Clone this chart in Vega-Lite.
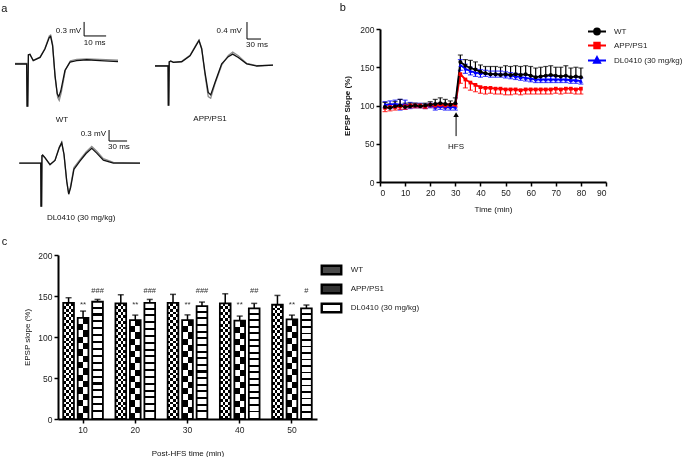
{
"$schema": "https://vega.github.io/schema/vega-lite/v6.json",
"background": "white",
"padding": {"left": 1, "top": 1, "right": 0, "bottom": 0},
"config": {
 "font": "Liberation Sans",
 "view": {"stroke": null},
 "axis": {"grid": false, "domainColor": "#000", "domainWidth": 2, "tickColor": "#000", "tickWidth": 1.5, "tickSize": 4, "labelFontSize": 8.5, "labelColor": "#222", "titleFontSize": 8, "titleFontWeight": "normal", "titleColor": "#111", "labelPadding": 2, "labelOverlap": false},
 "title": {"fontSize": 11, "fontWeight": "normal", "anchor": "start", "frame": "bounds", "color": "#111"},
 "legend": {"labelFontSize": 8, "labelColor": "#222"}
},
"datasets": {
 "wt": [
  {"s":"A","t":0,"v":0},{"s":"A","t":5.3,"v":0},{"s":"A","t":5.5,"v":-0.9},{"s":"A","t":5.8,"v":-0.9},{"s":"A","t":6.1,"v":0.2},{"s":"A","t":6.8,"v":0.21},{"s":"A","t":8.3,"v":0.07},{"s":"A","t":11.4,"v":0.14},{"s":"A","t":13.6,"v":0.32},{"s":"A","t":15.6,"v":0.57},{"s":"A","t":16.2,"v":0.59},{"s":"A","t":17.1,"v":0.39},{"s":"A","t":18.2,"v":-0.25},{"s":"A","t":19.2,"v":-0.64},{"s":"A","t":19.9,"v":-0.7},{"s":"A","t":20.8,"v":-0.58},{"s":"A","t":22.7,"v":-0.14},{"s":"A","t":25,"v":0.04},{"s":"A","t":28,"v":0.07},{"s":"A","t":32.6,"v":0.09},{"s":"A","t":38.6,"v":0.07},{"s":"A","t":46.8,"v":0.05},
  {"s":"B","t":0,"v":0.01},{"s":"B","t":5.3,"v":0.01},{"s":"B","t":5.5,"v":-0.9},{"s":"B","t":5.8,"v":-0.9},{"s":"B","t":6.1,"v":0.19},{"s":"B","t":6.8,"v":0.2},{"s":"B","t":8.3,"v":0.08},{"s":"B","t":11.4,"v":0.15},{"s":"B","t":13.6,"v":0.33},{"s":"B","t":15.6,"v":0.6},{"s":"B","t":16.2,"v":0.62},{"s":"B","t":17.1,"v":0.42},{"s":"B","t":18.2,"v":-0.28},{"s":"B","t":19.4,"v":-0.72},{"s":"B","t":20.1,"v":-0.78},{"s":"B","t":21,"v":-0.62},{"s":"B","t":22.9,"v":-0.13},{"s":"B","t":25.2,"v":0.07},{"s":"B","t":28,"v":0.1},{"s":"B","t":32.6,"v":0.11},{"s":"B","t":38.6,"v":0.1},{"s":"B","t":46.8,"v":0.08}
 ],
 "app": [
  {"s":"A","t":0,"v":0},{"s":"A","t":25,"v":0},{"s":"A","t":28,"v":0},{"s":"A","t":28.5,"v":-0.92},{"s":"A","t":29.5,"v":-0.92},{"s":"A","t":30.5,"v":0.1},{"s":"A","t":33.6,"v":0.12},{"s":"A","t":39.2,"v":0.087},{"s":"A","t":57.2,"v":0.1},{"s":"A","t":75,"v":0.24},{"s":"A","t":87.8,"v":0.48},{"s":"A","t":94.2,"v":0.6},{"s":"A","t":100,"v":0.4},{"s":"A","t":107,"v":-0.15},{"s":"A","t":114,"v":-0.62},{"s":"A","t":119.3,"v":-0.68},{"s":"A","t":128.5,"v":-0.39},{"s":"A","t":142.8,"v":0.05},{"s":"A","t":157,"v":0.22},{"s":"A","t":166.4,"v":0.28},{"s":"A","t":178.4,"v":0.2},{"s":"A","t":196.4,"v":0.05},{"s":"A","t":217.8,"v":0},{"s":"A","t":252.7,"v":0.02},
  {"s":"B","t":0,"v":0.01},{"s":"B","t":25,"v":0.01},{"s":"B","t":28,"v":0.01},{"s":"B","t":28.5,"v":-0.92},{"s":"B","t":29.5,"v":-0.92},{"s":"B","t":30.5,"v":0.1},{"s":"B","t":33.6,"v":0.11},{"s":"B","t":39.2,"v":0.09},{"s":"B","t":57.2,"v":0.11},{"s":"B","t":75,"v":0.25},{"s":"B","t":87.8,"v":0.5},{"s":"B","t":94.2,"v":0.61},{"s":"B","t":100,"v":0.42},{"s":"B","t":107,"v":-0.2},{"s":"B","t":114,"v":-0.72},{"s":"B","t":119.3,"v":-0.76},{"s":"B","t":128.5,"v":-0.42},{"s":"B","t":142.8,"v":0.02},{"s":"B","t":157,"v":0.25},{"s":"B","t":166.4,"v":0.33},{"s":"B","t":178.4,"v":0.24},{"s":"B","t":196.4,"v":0.06},{"s":"B","t":217.8,"v":0.01},{"s":"B","t":252.7,"v":0.02}
 ],
 "dl": [
  {"s":"A","t":0,"v":0},{"s":"A","t":33.3,"v":0},{"s":"A","t":35.8,"v":0},{"s":"A","t":36.2,"v":-1.17},{"s":"A","t":37.2,"v":-1.17},{"s":"A","t":37.8,"v":0.2},{"s":"A","t":39,"v":0.22},{"s":"A","t":42.8,"v":0.15},{"s":"A","t":51.2,"v":-0.04},{"s":"A","t":59.5,"v":0.07},{"s":"A","t":66.7,"v":0.42},{"s":"A","t":70.7,"v":0.55},{"s":"A","t":74.5,"v":0.24},{"s":"A","t":79,"v":-0.49},{"s":"A","t":82.3,"v":-0.85},{"s":"A","t":85.5,"v":-0.67},{"s":"A","t":91,"v":-0.17},{"s":"A","t":101,"v":0.05},{"s":"A","t":111.2,"v":0.26},{"s":"A","t":120.7,"v":0.4},{"s":"A","t":129,"v":0.27},{"s":"A","t":140,"v":0.08},{"s":"A","t":156.7,"v":0},{"s":"A","t":201,"v":0},
  {"s":"B","t":0,"v":0},{"s":"B","t":33.3,"v":0},{"s":"B","t":35.8,"v":0},{"s":"B","t":36.2,"v":-1.17},{"s":"B","t":37.2,"v":-1.17},{"s":"B","t":37.8,"v":0.2},{"s":"B","t":39,"v":0.2},{"s":"B","t":42.8,"v":0.14},{"s":"B","t":51.2,"v":-0.05},{"s":"B","t":59.5,"v":0.08},{"s":"B","t":66.7,"v":0.44},{"s":"B","t":70.7,"v":0.57},{"s":"B","t":74.5,"v":0.22},{"s":"B","t":79,"v":-0.5},{"s":"B","t":82.3,"v":-0.83},{"s":"B","t":85.5,"v":-0.62},{"s":"B","t":91,"v":-0.12},{"s":"B","t":101,"v":0.09},{"s":"B","t":111.2,"v":0.3},{"s":"B","t":120.7,"v":0.45},{"s":"B","t":129,"v":0.32},{"s":"B","t":140,"v":0.12},{"s":"B","t":156.7,"v":0.02},{"s":"B","t":201,"v":0}
 ],
 "ltp": [
  {"g":"DL0410 (30 mg/kg)","t":2,"m":101,"lo":97,"hi":105},{"g":"DL0410 (30 mg/kg)","t":4,"m":101,"lo":96,"hi":106},{"g":"DL0410 (30 mg/kg)","t":6,"m":102,"lo":97,"hi":107},{"g":"DL0410 (30 mg/kg)","t":8,"m":101,"lo":94,"hi":108},{"g":"DL0410 (30 mg/kg)","t":10,"m":101,"lo":95,"hi":107},{"g":"DL0410 (30 mg/kg)","t":12,"m":100,"lo":96,"hi":104},{"g":"DL0410 (30 mg/kg)","t":14,"m":100,"lo":97,"hi":103},{"g":"DL0410 (30 mg/kg)","t":16,"m":100,"lo":97,"hi":103},{"g":"DL0410 (30 mg/kg)","t":18,"m":99,"lo":96,"hi":102},{"g":"DL0410 (30 mg/kg)","t":20,"m":100,"lo":97,"hi":103},{"g":"DL0410 (30 mg/kg)","t":22,"m":98,"lo":94,"hi":102},{"g":"DL0410 (30 mg/kg)","t":24,"m":99,"lo":95,"hi":103},{"g":"DL0410 (30 mg/kg)","t":26,"m":98,"lo":94,"hi":102},{"g":"DL0410 (30 mg/kg)","t":28,"m":98,"lo":94,"hi":102},{"g":"DL0410 (30 mg/kg)","t":30,"m":98,"lo":94,"hi":102},{"g":"DL0410 (30 mg/kg)","t":32,"m":153,"lo":146,"hi":160},{"g":"DL0410 (30 mg/kg)","t":34,"m":148,"lo":142,"hi":154},{"g":"DL0410 (30 mg/kg)","t":36,"m":145,"lo":140,"hi":150},{"g":"DL0410 (30 mg/kg)","t":38,"m":143,"lo":138,"hi":148},{"g":"DL0410 (30 mg/kg)","t":40,"m":142,"lo":137,"hi":147},{"g":"DL0410 (30 mg/kg)","t":42,"m":142,"lo":138,"hi":146},{"g":"DL0410 (30 mg/kg)","t":44,"m":141,"lo":137,"hi":145},{"g":"DL0410 (30 mg/kg)","t":46,"m":141,"lo":137,"hi":145},{"g":"DL0410 (30 mg/kg)","t":48,"m":141,"lo":137,"hi":145},{"g":"DL0410 (30 mg/kg)","t":50,"m":140,"lo":136,"hi":144},{"g":"DL0410 (30 mg/kg)","t":52,"m":139,"lo":135,"hi":143},{"g":"DL0410 (30 mg/kg)","t":54,"m":138,"lo":134,"hi":142},{"g":"DL0410 (30 mg/kg)","t":56,"m":137,"lo":133,"hi":141},{"g":"DL0410 (30 mg/kg)","t":58,"m":136,"lo":132,"hi":140},{"g":"DL0410 (30 mg/kg)","t":60,"m":135,"lo":131,"hi":139},{"g":"DL0410 (30 mg/kg)","t":62,"m":134,"lo":130,"hi":138},{"g":"DL0410 (30 mg/kg)","t":64,"m":134,"lo":130,"hi":138},{"g":"DL0410 (30 mg/kg)","t":66,"m":134,"lo":130,"hi":138},{"g":"DL0410 (30 mg/kg)","t":68,"m":134,"lo":130,"hi":138},{"g":"DL0410 (30 mg/kg)","t":70,"m":134,"lo":130,"hi":138},{"g":"DL0410 (30 mg/kg)","t":72,"m":134,"lo":130,"hi":138},{"g":"DL0410 (30 mg/kg)","t":74,"m":134,"lo":130,"hi":138},{"g":"DL0410 (30 mg/kg)","t":76,"m":133,"lo":129,"hi":137},{"g":"DL0410 (30 mg/kg)","t":78,"m":133,"lo":129,"hi":137},{"g":"DL0410 (30 mg/kg)","t":80,"m":132,"lo":128,"hi":136},
  {"g":"APP/PS1","t":2,"m":97,"lo":92,"hi":97},{"g":"APP/PS1","t":4,"m":98,"lo":93,"hi":98},{"g":"APP/PS1","t":6,"m":98,"lo":94,"hi":98},{"g":"APP/PS1","t":8,"m":99,"lo":95,"hi":99},{"g":"APP/PS1","t":10,"m":99,"lo":95,"hi":99},{"g":"APP/PS1","t":12,"m":100,"lo":97,"hi":100},{"g":"APP/PS1","t":14,"m":100,"lo":97,"hi":100},{"g":"APP/PS1","t":16,"m":100,"lo":97,"hi":100},{"g":"APP/PS1","t":18,"m":99,"lo":96,"hi":99},{"g":"APP/PS1","t":20,"m":101,"lo":98,"hi":101},{"g":"APP/PS1","t":22,"m":100,"lo":97,"hi":100},{"g":"APP/PS1","t":24,"m":101,"lo":98,"hi":101},{"g":"APP/PS1","t":26,"m":100,"lo":97,"hi":100},{"g":"APP/PS1","t":28,"m":101,"lo":98,"hi":101},{"g":"APP/PS1","t":30,"m":101,"lo":98,"hi":101},{"g":"APP/PS1","t":32,"m":141,"lo":129,"hi":141},{"g":"APP/PS1","t":34,"m":134,"lo":123,"hi":134},{"g":"APP/PS1","t":36,"m":130,"lo":120,"hi":130},{"g":"APP/PS1","t":38,"m":127,"lo":118,"hi":127},{"g":"APP/PS1","t":40,"m":124,"lo":116,"hi":124},{"g":"APP/PS1","t":42,"m":123,"lo":115,"hi":123},{"g":"APP/PS1","t":44,"m":123,"lo":116,"hi":123},{"g":"APP/PS1","t":46,"m":122,"lo":115,"hi":122},{"g":"APP/PS1","t":48,"m":122,"lo":115,"hi":122},{"g":"APP/PS1","t":50,"m":121,"lo":114,"hi":121},{"g":"APP/PS1","t":52,"m":121,"lo":114,"hi":121},{"g":"APP/PS1","t":54,"m":121,"lo":115,"hi":121},{"g":"APP/PS1","t":56,"m":120,"lo":114,"hi":120},{"g":"APP/PS1","t":58,"m":121,"lo":115,"hi":121},{"g":"APP/PS1","t":60,"m":121,"lo":115,"hi":121},{"g":"APP/PS1","t":62,"m":121,"lo":115,"hi":121},{"g":"APP/PS1","t":64,"m":121,"lo":115,"hi":121},{"g":"APP/PS1","t":66,"m":121,"lo":115,"hi":121},{"g":"APP/PS1","t":68,"m":121,"lo":115,"hi":121},{"g":"APP/PS1","t":70,"m":122,"lo":116,"hi":122},{"g":"APP/PS1","t":72,"m":121,"lo":115,"hi":121},{"g":"APP/PS1","t":74,"m":122,"lo":116,"hi":122},{"g":"APP/PS1","t":76,"m":122,"lo":116,"hi":122},{"g":"APP/PS1","t":78,"m":121,"lo":115,"hi":121},{"g":"APP/PS1","t":80,"m":122,"lo":115,"hi":122},
  {"g":"WT","t":2,"m":98,"lo":98,"hi":104},{"g":"WT","t":4,"m":97,"lo":97,"hi":102},{"g":"WT","t":6,"m":99,"lo":99,"hi":105},{"g":"WT","t":8,"m":100,"lo":100,"hi":108},{"g":"WT","t":10,"m":98,"lo":98,"hi":103},{"g":"WT","t":12,"m":99,"lo":99,"hi":103},{"g":"WT","t":14,"m":100,"lo":100,"hi":103},{"g":"WT","t":16,"m":99,"lo":99,"hi":102},{"g":"WT","t":18,"m":100,"lo":100,"hi":103},{"g":"WT","t":20,"m":101,"lo":101,"hi":105},{"g":"WT","t":22,"m":102,"lo":102,"hi":108},{"g":"WT","t":24,"m":103,"lo":103,"hi":110},{"g":"WT","t":26,"m":102,"lo":102,"hi":108},{"g":"WT","t":28,"m":101,"lo":101,"hi":106},{"g":"WT","t":30,"m":103,"lo":103,"hi":110},{"g":"WT","t":32,"m":157,"lo":157,"hi":166},{"g":"WT","t":34,"m":152,"lo":152,"hi":160},{"g":"WT","t":36,"m":149,"lo":149,"hi":159},{"g":"WT","t":38,"m":147,"lo":147,"hi":157},{"g":"WT","t":40,"m":144,"lo":144,"hi":153},{"g":"WT","t":42,"m":142,"lo":142,"hi":151},{"g":"WT","t":44,"m":141,"lo":141,"hi":151},{"g":"WT","t":46,"m":141,"lo":141,"hi":151},{"g":"WT","t":48,"m":140,"lo":140,"hi":150},{"g":"WT","t":50,"m":141,"lo":141,"hi":152},{"g":"WT","t":52,"m":140,"lo":140,"hi":151},{"g":"WT","t":54,"m":141,"lo":141,"hi":152},{"g":"WT","t":56,"m":140,"lo":140,"hi":151},{"g":"WT","t":58,"m":141,"lo":141,"hi":152},{"g":"WT","t":60,"m":139,"lo":139,"hi":151},{"g":"WT","t":62,"m":137,"lo":137,"hi":149},{"g":"WT","t":64,"m":138,"lo":138,"hi":150},{"g":"WT","t":66,"m":139,"lo":139,"hi":151},{"g":"WT","t":68,"m":140,"lo":140,"hi":152},{"g":"WT","t":70,"m":139,"lo":139,"hi":150},{"g":"WT","t":72,"m":138,"lo":138,"hi":150},{"g":"WT","t":74,"m":139,"lo":139,"hi":152},{"g":"WT","t":76,"m":137,"lo":137,"hi":149},{"g":"WT","t":78,"m":138,"lo":138,"hi":150},{"g":"WT","t":80,"m":137,"lo":137,"hi":149}
 ],
 "bars": [
  {"time":"10","g":"WT","m":141.7,"hi":147.9},{"time":"10","g":"APP/PS1","m":123.4,"hi":131.6},{"time":"10","g":"DL0410 (30 mg/kg)","m":143,"hi":145.8},
  {"time":"20","g":"WT","m":141,"hi":151.5},{"time":"20","g":"APP/PS1","m":120.6,"hi":126.7},{"time":"20","g":"DL0410 (30 mg/kg)","m":141.7,"hi":145.8},
  {"time":"30","g":"WT","m":141.7,"hi":152},{"time":"30","g":"APP/PS1","m":120.6,"hi":127},{"time":"30","g":"DL0410 (30 mg/kg)","m":137.7,"hi":142.6},
  {"time":"40","g":"WT","m":141,"hi":152.7},{"time":"40","g":"APP/PS1","m":120,"hi":125.5},{"time":"40","g":"DL0410 (30 mg/kg)","m":135,"hi":141},
  {"time":"50","g":"WT","m":139.3,"hi":150.7},{"time":"50","g":"APP/PS1","m":121.4,"hi":126.7},{"time":"50","g":"DL0410 (30 mg/kg)","m":134.8,"hi":139}
 ],
 "sig": [
  {"time":"10","g":"APP/PS1","label":"**"},{"time":"20","g":"APP/PS1","label":"**"},{"time":"30","g":"APP/PS1","label":"**"},{"time":"40","g":"APP/PS1","label":"**"},{"time":"50","g":"APP/PS1","label":"**"},
  {"time":"10","g":"DL0410 (30 mg/kg)","label":"###"},{"time":"20","g":"DL0410 (30 mg/kg)","label":"###"},{"time":"30","g":"DL0410 (30 mg/kg)","label":"###"},{"time":"40","g":"DL0410 (30 mg/kg)","label":"##"},{"time":"50","g":"DL0410 (30 mg/kg)","label":"#"}
 ]
},
"resolve": {"scale": {"color": "independent", "stroke": "independent", "fill": "independent"}, "legend": {"color": "independent", "stroke": "independent", "fill": "independent"}},
"vconcat": [
 {
  "resolve": {"scale": {"color": "independent", "stroke": "independent", "fill": "independent"}, "legend": {"color": "independent", "stroke": "independent", "fill": "independent"}},
  "hconcat": [
   {
    "title": {"text": "a", "dx": -11, "offset": 6},
    "vconcat": [
     {
      "hconcat": [
       {
        "width": 60, "height": 77,
        "title": {"text": "WT", "orient": "bottom", "anchor": "middle", "fontSize": 8, "offset": 7, "dx": -4.5},
        "encoding": {
         "x": {"field": "t", "type": "quantitative", "scale": {"domain": [19.545, 46.8], "nice": false, "zero": false}, "axis": null},
         "y": {"field": "v", "type": "quantitative", "scale": {"domain": [-0.9, 0.749], "nice": false, "zero": false}, "axis": null}
        },
        "layer": [
         {"data": {"name": "wt"}, "transform": [{"filter": "datum.s === 'B'"}], "mark": {"type": "line", "color": "#8c8c8c", "strokeWidth": 1.3}, "encoding": {"order": {"value": null}}},
         {"data": {"name": "wt"}, "transform": [{"filter": "datum.s === 'A'"}], "mark": {"type": "line", "color": "#111111", "strokeWidth": 1.3}, "encoding": {"order": {"value": null}}},
         {"data": {"values": [{"t": 31.4, "v": 0.9}, {"t": 31.4, "v": 0.6}, {"t": 41.4, "v": 0.6}]}, "mark": {"type": "line", "color": "#000", "strokeWidth": 1}, "encoding": {"order": {"value": null}}},
         {"data": {"values": [{"t": 24.3, "v": 0.71, "label": "0.3 mV"}, {"t": 36.2, "v": 0.44, "label": "10 ms"}]}, "mark": {"type": "text", "fontSize": 8, "color": "#111"}, "encoding": {"text": {"field": "label"}}}
        ]
       },
       {
        "width": 118, "height": 77,
        "title": {"text": "APP/PS1", "orient": "bottom", "anchor": "middle", "fontSize": 8, "offset": 7, "dx": -4},
        "encoding": {
         "x": {"field": "t", "type": "quantitative", "scale": {"domain": [0, 252.7], "nice": false, "zero": false}, "axis": null},
         "y": {"field": "v", "type": "quantitative", "scale": {"domain": [-0.941, 0.871], "nice": false, "zero": false}, "axis": null}
        },
        "layer": [
         {"data": {"name": "app"}, "transform": [{"filter": "datum.s === 'B'"}], "mark": {"type": "line", "color": "#8c8c8c", "strokeWidth": 1.3}, "encoding": {"order": {"value": null}}},
         {"data": {"name": "app"}, "transform": [{"filter": "datum.s === 'A'"}], "mark": {"type": "line", "color": "#111111", "strokeWidth": 1.3}, "encoding": {"order": {"value": null}}},
         {"data": {"values": [{"t": 197, "v": 1.035}, {"t": 197, "v": 0.635}, {"t": 227, "v": 0.635}]}, "mark": {"type": "line", "color": "#000", "strokeWidth": 1}, "encoding": {"order": {"value": null}}},
         {"data": {"values": [{"t": 159, "v": 0.83, "label": "0.4 mV"}, {"t": 218.4, "v": 0.49, "label": "30 ms"}]}, "mark": {"type": "text", "fontSize": 8, "color": "#111"}, "encoding": {"text": {"field": "label"}}}
        ]
       }
      ],
      "spacing": 31
     },
     {
      "width": 82, "height": 76,
      "title": {"text": "DL0410 (30 mg/kg)", "orient": "bottom", "anchor": "middle", "fontSize": 8, "offset": 5, "dx": 1.5},
      "encoding": {
       "x": {"field": "t", "type": "quantitative", "scale": {"domain": [64.5, 201], "nice": false, "zero": false}, "axis": null},
       "y": {"field": "v", "type": "quantitative", "scale": {"domain": [-1.17, 0.9], "nice": false, "zero": false}, "axis": null}
      },
      "layer": [
       {"data": {"name": "dl"}, "transform": [{"filter": "datum.s === 'B'"}], "mark": {"type": "line", "color": "#8c8c8c", "strokeWidth": 1.3}, "encoding": {"order": {"value": null}}},
       {"data": {"name": "dl"}, "transform": [{"filter": "datum.s === 'A'"}], "mark": {"type": "line", "color": "#111111", "strokeWidth": 1.3}, "encoding": {"order": {"value": null}}},
       {"data": {"values": [{"t": 149.5, "v": 0.9}, {"t": 149.5, "v": 0.6}, {"t": 179.5, "v": 0.6}]}, "mark": {"type": "line", "color": "#000", "strokeWidth": 1}, "encoding": {"order": {"value": null}}},
       {"data": {"values": [{"t": 123.3, "v": 0.78, "label": "0.3 mV"}, {"t": 166, "v": 0.44, "label": "30 ms"}]}, "mark": {"type": "text", "fontSize": 8, "color": "#111"}, "encoding": {"text": {"field": "label"}}}
      ]
     }
    ],
    "spacing": 4
   },
   {
    "title": {"text": "b", "dx": -4, "offset": 12},
    "width": 226, "height": 153,
    "layer": [
     {
      "data": {"name": "ltp"},
      "encoding": {
       "x": {"field": "t", "type": "quantitative", "title": "Time (min)", "scale": {"domain": [0, 90], "nice": false}, "axis": {"values": [0, 10, 20, 30, 40, 50, 60, 70, 80, 90], "titlePadding": 9, "labelOverlap": false}},
       "color": {"field": "g", "type": "nominal", "scale": {"domain": ["WT", "APP/PS1", "DL0410 (30 mg/kg)"], "range": ["#000000", "#ff0000", "#0000ff"]},
        "legend": {"orient": "none", "legendX": 210, "legendY": -4.5, "title": null, "symbolType": "M-1.5,0H1.5", "symbolSize": 144, "symbolStrokeWidth": 2, "labelOffset": 10, "rowPadding": 0,
         "encode": {"symbols": {"update": {
          "shape": {"signal": "datum.value === 'WT' ? 'M-1.5,0H1.5M-0.48,0A0.48,0.48,0,1,1,0.48,0A0.48,0.48,0,1,1,-0.48,0Z' : datum.value === 'APP/PS1' ? 'M-1.5,0H1.5M-0.45,-0.45H0.45V0.45H-0.45Z' : 'M-1.5,0H1.5M0,-0.55L0.5,0.36H-0.5Z'"},
          "fill": {"signal": "datum.value === 'WT' ? '#000000' : datum.value === 'APP/PS1' ? '#ff0000' : '#0000ff'"},
          "stroke": {"signal": "datum.value === 'WT' ? '#000000' : datum.value === 'APP/PS1' ? '#ff0000' : '#0000ff'"},
          "fillOpacity": {"value": 1}, "strokeOpacity": {"value": 1}
         }}}}
       }
      },
      "layer": [
       {"mark": {"type": "rule", "strokeWidth": 1.2}, "encoding": {"y": {"field": "lo", "type": "quantitative", "title": "EPSP Slope (%)", "scale": {"domain": [0, 200], "nice": false}, "axis": {"values": [0, 50, 100, 150, 200], "titleFontWeight": "bold", "titlePadding": 8, "labelOverlap": false}}, "y2": {"field": "hi"}}},
       {"transform": [{"filter": "datum.g !== 'APP/PS1'"}], "mark": {"type": "tick", "orient": "horizontal", "size": 5, "thickness": 1.2}, "encoding": {"y": {"field": "hi", "type": "quantitative", "title": "EPSP Slope (%)", "scale": {"domain": [0, 200], "nice": false}, "axis": {"values": [0, 50, 100, 150, 200], "titleFontWeight": "bold", "titlePadding": 8, "labelOverlap": false}}}},
       {"transform": [{"filter": "datum.g !== 'WT'"}], "mark": {"type": "tick", "orient": "horizontal", "size": 5, "thickness": 1.2}, "encoding": {"y": {"field": "lo", "type": "quantitative", "title": "EPSP Slope (%)", "scale": {"domain": [0, 200], "nice": false}, "axis": {"values": [0, 50, 100, 150, 200], "titleFontWeight": "bold", "titlePadding": 8, "labelOverlap": false}}}},
       {"mark": {"type": "line", "strokeWidth": 1.8}, "encoding": {"y": {"field": "m", "type": "quantitative", "title": "EPSP Slope (%)", "scale": {"domain": [0, 200], "nice": false}, "axis": {"values": [0, 50, 100, 150, 200], "titleFontWeight": "bold", "titlePadding": 8, "labelOverlap": false}}}},
       {"transform": [{"filter": "datum.g === 'DL0410 (30 mg/kg)'"}], "mark": {"type": "point", "shape": "triangle-up", "filled": true, "size": 16, "opacity": 1}, "encoding": {"y": {"field": "m", "type": "quantitative", "title": "EPSP Slope (%)", "scale": {"domain": [0, 200], "nice": false}, "axis": {"values": [0, 50, 100, 150, 200], "titleFontWeight": "bold", "titlePadding": 8, "labelOverlap": false}}}},
       {"transform": [{"filter": "datum.g === 'APP/PS1'"}], "mark": {"type": "point", "shape": "square", "filled": true, "size": 14, "opacity": 1}, "encoding": {"y": {"field": "m", "type": "quantitative", "title": "EPSP Slope (%)", "scale": {"domain": [0, 200], "nice": false}, "axis": {"values": [0, 50, 100, 150, 200], "titleFontWeight": "bold", "titlePadding": 8, "labelOverlap": false}}}},
       {"transform": [{"filter": "datum.g === 'WT'"}], "mark": {"type": "point", "shape": "circle", "filled": true, "size": 16, "opacity": 1}, "encoding": {"y": {"field": "m", "type": "quantitative", "title": "EPSP Slope (%)", "scale": {"domain": [0, 200], "nice": false}, "axis": {"values": [0, 50, 100, 150, 200], "titleFontWeight": "bold", "titlePadding": 8, "labelOverlap": false}}}}
      ]
     },
     {
      "data": {"values": [{"t": 30.3, "y1": 60, "y2": 88, "label": "HFS"}]},
      "encoding": {"x": {"field": "t", "type": "quantitative", "title": "Time (min)", "scale": {"domain": [0, 90], "nice": false}, "axis": {"values": [0, 10, 20, 30, 40, 50, 60, 70, 80, 90], "titlePadding": 9, "labelOverlap": false}}},
      "layer": [
       {"mark": {"type": "rule", "color": "#000", "strokeWidth": 1}, "encoding": {"y": {"field": "y1", "type": "quantitative", "title": "EPSP Slope (%)", "scale": {"domain": [0, 200], "nice": false}, "axis": {"values": [0, 50, 100, 150, 200], "titleFontWeight": "bold", "titlePadding": 8, "labelOverlap": false}}, "y2": {"field": "y2"}}},
       {"mark": {"type": "point", "shape": "triangle-up", "filled": true, "color": "#000", "size": 30, "opacity": 1}, "encoding": {"y": {"field": "y2", "type": "quantitative", "title": "EPSP Slope (%)", "scale": {"domain": [0, 200], "nice": false}, "axis": {"values": [0, 50, 100, 150, 200], "titleFontWeight": "bold", "titlePadding": 8, "labelOverlap": false}}}},
       {"mark": {"type": "text", "fontSize": 8, "color": "#111"}, "encoding": {"y": {"datum": 46, "type": "quantitative", "title": "EPSP Slope (%)", "scale": {"domain": [0, 200], "nice": false}, "axis": {"values": [0, 50, 100, 150, 200], "titleFontWeight": "bold", "titlePadding": 8, "labelOverlap": false}}, "text": {"field": "label"}}}
      ]
     }
    ]
   }
  ],
  "spacing": 63
 },
 {
  "title": {"text": "c", "dx": -22, "offset": 4},
  "width": 259, "height": 164,
  "data": {"name": "bars"},
  "encoding": {
   "x": {"field": "time", "type": "nominal", "title": "Post-HFS time (min)", "scale": {"paddingInner": 0.24, "paddingOuter": 0.1}, "axis": {"labelAngle": 0, "titlePadding": 16}},
   "xOffset": {"field": "g", "type": "nominal", "scale": {"domain": ["WT", "APP/PS1", "DL0410 (30 mg/kg)"], "paddingInner": 0.26}}
  },
  "layer": [
   {"transform": [{"filter": "datum.g === 'WT'"}], "mark": {"type": "bar", "fill": {"gradient": "linear", "x1": 0, "y1": 0, "x2": 1, "y2": 0, "stops": [{"offset": 0, "color": "black"}, {"offset": 0.25, "color": "black"}, {"offset": 0.25, "color": "white"}, {"offset": 0.5, "color": "white"}, {"offset": 0.5, "color": "black"}, {"offset": 0.75, "color": "black"}, {"offset": 0.75, "color": "white"}, {"offset": 1, "color": "white"}]}},
    "encoding": {"y": {"field": "m", "type": "quantitative", "title": "EPSP slope (%)", "scale": {"domain": [0, 200], "nice": false}, "axis": {"values": [0, 50, 100, 150, 200], "titlePadding": 6}}}},
   {"transform": [{"filter": "datum.g === 'WT'"}], "mark": {"type": "bar", "blend": "difference", "fill": {"gradient": "linear", "x1": 0, "y1": 0, "x2": 0, "y2": 1, "stops": [
     {"offset":0,"color":"white"},{"offset":0.025,"color":"white"},{"offset":0.025,"color":"black"},{"offset":0.05,"color":"black"},
     {"offset":0.05,"color":"white"},{"offset":0.075,"color":"white"},{"offset":0.075,"color":"black"},{"offset":0.1,"color":"black"},
     {"offset":0.1,"color":"white"},{"offset":0.125,"color":"white"},{"offset":0.125,"color":"black"},{"offset":0.15,"color":"black"},
     {"offset":0.15,"color":"white"},{"offset":0.175,"color":"white"},{"offset":0.175,"color":"black"},{"offset":0.2,"color":"black"},
     {"offset":0.2,"color":"white"},{"offset":0.225,"color":"white"},{"offset":0.225,"color":"black"},{"offset":0.25,"color":"black"},
     {"offset":0.25,"color":"white"},{"offset":0.275,"color":"white"},{"offset":0.275,"color":"black"},{"offset":0.3,"color":"black"},
     {"offset":0.3,"color":"white"},{"offset":0.325,"color":"white"},{"offset":0.325,"color":"black"},{"offset":0.35,"color":"black"},
     {"offset":0.35,"color":"white"},{"offset":0.375,"color":"white"},{"offset":0.375,"color":"black"},{"offset":0.4,"color":"black"},
     {"offset":0.4,"color":"white"},{"offset":0.425,"color":"white"},{"offset":0.425,"color":"black"},{"offset":0.45,"color":"black"},
     {"offset":0.45,"color":"white"},{"offset":0.475,"color":"white"},{"offset":0.475,"color":"black"},{"offset":0.5,"color":"black"},
     {"offset":0.5,"color":"white"},{"offset":0.525,"color":"white"},{"offset":0.525,"color":"black"},{"offset":0.55,"color":"black"},
     {"offset":0.55,"color":"white"},{"offset":0.575,"color":"white"},{"offset":0.575,"color":"black"},{"offset":0.6,"color":"black"},
     {"offset":0.6,"color":"white"},{"offset":0.625,"color":"white"},{"offset":0.625,"color":"black"},{"offset":0.65,"color":"black"},
     {"offset":0.65,"color":"white"},{"offset":0.675,"color":"white"},{"offset":0.675,"color":"black"},{"offset":0.7,"color":"black"},
     {"offset":0.7,"color":"white"},{"offset":0.725,"color":"white"},{"offset":0.725,"color":"black"},{"offset":0.75,"color":"black"},
     {"offset":0.75,"color":"white"},{"offset":0.775,"color":"white"},{"offset":0.775,"color":"black"},{"offset":0.8,"color":"black"},
     {"offset":0.8,"color":"white"},{"offset":0.825,"color":"white"},{"offset":0.825,"color":"black"},{"offset":0.85,"color":"black"},
     {"offset":0.85,"color":"white"},{"offset":0.875,"color":"white"},{"offset":0.875,"color":"black"},{"offset":0.9,"color":"black"},
     {"offset":0.9,"color":"white"},{"offset":0.925,"color":"white"},{"offset":0.925,"color":"black"},{"offset":0.95,"color":"black"},
     {"offset":0.95,"color":"white"},{"offset":0.975,"color":"white"},{"offset":0.975,"color":"black"},{"offset":1,"color":"black"}]}},
    "encoding": {"y": {"field": "m", "type": "quantitative", "title": "EPSP slope (%)"}}},
   {"transform": [{"filter": "datum.g === 'APP/PS1'"}], "mark": {"type": "bar", "fill": {"gradient": "linear", "x1": 0, "y1": 0, "x2": 1, "y2": 0, "stops": [{"offset": 0, "color": "black"}, {"offset": 0.5, "color": "black"}, {"offset": 0.5, "color": "white"}, {"offset": 1, "color": "white"}]}},
    "encoding": {"y": {"field": "m", "type": "quantitative", "title": "EPSP slope (%)"}}},
   {"transform": [{"filter": "datum.g === 'APP/PS1'"}], "mark": {"type": "bar", "blend": "difference", "fill": {"gradient": "linear", "x1": 0, "y1": 0, "x2": 0, "y2": 1, "stops": [
     {"offset":0,"color":"white"},{"offset":0.0625,"color":"white"},{"offset":0.0625,"color":"black"},{"offset":0.125,"color":"black"},
     {"offset":0.125,"color":"white"},{"offset":0.1875,"color":"white"},{"offset":0.1875,"color":"black"},{"offset":0.25,"color":"black"},
     {"offset":0.25,"color":"white"},{"offset":0.3125,"color":"white"},{"offset":0.3125,"color":"black"},{"offset":0.375,"color":"black"},
     {"offset":0.375,"color":"white"},{"offset":0.4375,"color":"white"},{"offset":0.4375,"color":"black"},{"offset":0.5,"color":"black"},
     {"offset":0.5,"color":"white"},{"offset":0.5625,"color":"white"},{"offset":0.5625,"color":"black"},{"offset":0.625,"color":"black"},
     {"offset":0.625,"color":"white"},{"offset":0.6875,"color":"white"},{"offset":0.6875,"color":"black"},{"offset":0.75,"color":"black"},
     {"offset":0.75,"color":"white"},{"offset":0.8125,"color":"white"},{"offset":0.8125,"color":"black"},{"offset":0.875,"color":"black"},
     {"offset":0.875,"color":"white"},{"offset":0.9375,"color":"white"},{"offset":0.9375,"color":"black"},{"offset":1,"color":"black"}]}},
    "encoding": {"y": {"field": "m", "type": "quantitative", "title": "EPSP slope (%)"}}},
   {"transform": [{"filter": "datum.g === 'DL0410 (30 mg/kg)'"}], "mark": {"type": "bar", "fill": {"gradient": "linear", "x1": 0, "y1": 0, "x2": 0, "y2": 1, "stops": [
     {"offset":0,"color":"white"},{"offset":0.041,"color":"white"},{"offset":0.041,"color":"black"},{"offset":0.0588,"color":"black"},
     {"offset":0.0588,"color":"white"},{"offset":0.0998,"color":"white"},{"offset":0.0998,"color":"black"},{"offset":0.1176,"color":"black"},
     {"offset":0.1176,"color":"white"},{"offset":0.1586,"color":"white"},{"offset":0.1586,"color":"black"},{"offset":0.1765,"color":"black"},
     {"offset":0.1765,"color":"white"},{"offset":0.2175,"color":"white"},{"offset":0.2175,"color":"black"},{"offset":0.2353,"color":"black"},
     {"offset":0.2353,"color":"white"},{"offset":0.2763,"color":"white"},{"offset":0.2763,"color":"black"},{"offset":0.2941,"color":"black"},
     {"offset":0.2941,"color":"white"},{"offset":0.3351,"color":"white"},{"offset":0.3351,"color":"black"},{"offset":0.3529,"color":"black"},
     {"offset":0.3529,"color":"white"},{"offset":0.3939,"color":"white"},{"offset":0.3939,"color":"black"},{"offset":0.4118,"color":"black"},
     {"offset":0.4118,"color":"white"},{"offset":0.4528,"color":"white"},{"offset":0.4528,"color":"black"},{"offset":0.4706,"color":"black"},
     {"offset":0.4706,"color":"white"},{"offset":0.5116,"color":"white"},{"offset":0.5116,"color":"black"},{"offset":0.5294,"color":"black"},
     {"offset":0.5294,"color":"white"},{"offset":0.5704,"color":"white"},{"offset":0.5704,"color":"black"},{"offset":0.5882,"color":"black"},
     {"offset":0.5882,"color":"white"},{"offset":0.6292,"color":"white"},{"offset":0.6292,"color":"black"},{"offset":0.6471,"color":"black"},
     {"offset":0.6471,"color":"white"},{"offset":0.6881,"color":"white"},{"offset":0.6881,"color":"black"},{"offset":0.7059,"color":"black"},
     {"offset":0.7059,"color":"white"},{"offset":0.7469,"color":"white"},{"offset":0.7469,"color":"black"},{"offset":0.7647,"color":"black"},
     {"offset":0.7647,"color":"white"},{"offset":0.8057,"color":"white"},{"offset":0.8057,"color":"black"},{"offset":0.8235,"color":"black"},
     {"offset":0.8235,"color":"white"},{"offset":0.8645,"color":"white"},{"offset":0.8645,"color":"black"},{"offset":0.8824,"color":"black"},
     {"offset":0.8824,"color":"white"},{"offset":0.9234,"color":"white"},{"offset":0.9234,"color":"black"},{"offset":0.9412,"color":"black"},
     {"offset":0.9412,"color":"white"},{"offset":1,"color":"white"}]}},
    "encoding": {"y": {"field": "m", "type": "quantitative", "title": "EPSP slope (%)"}}},
   {"mark": {"type": "bar", "fill": "transparent", "stroke": "#000000", "strokeWidth": 1.8},
    "encoding": {"y": {"field": "m", "type": "quantitative", "title": "EPSP slope (%)"}}},
   {"mark": {"type": "point", "shape": "square", "filled": true, "size": 0, "opacity": 1},
    "encoding": {"y": {"field": "m", "type": "quantitative", "title": "EPSP slope (%)"},
     "fill": {"field": "g", "type": "nominal", "scale": {"domain": ["WT", "APP/PS1", "DL0410 (30 mg/kg)"], "range": ["#4a4a4a", "#333333", "#ffffff"]},
      "legend": {"orient": "none", "legendX": 264, "legendY": 5.5, "title": null, "symbolType": "M-1.22,-0.53H1.22V0.53H-1.22Z", "symbolSize": 256, "symbolStrokeColor": "#000000", "symbolStrokeWidth": 2, "symbolOpacity": 1, "labelOffset": 9.7, "rowPadding": 0,
       "encode": {"symbols": {"update": {"stroke": {"value": "#000000"}, "strokeWidth": {"value": 2.4}, "fillOpacity": {"value": 1}}}}}}}},
   {"mark": {"type": "rule", "color": "#000", "strokeWidth": 1.5}, "encoding": {"y": {"field": "m", "type": "quantitative", "title": "EPSP slope (%)"}, "y2": {"field": "hi"}}},
   {"mark": {"type": "tick", "orient": "horizontal", "color": "#000", "size": 6, "thickness": 1.5}, "encoding": {"y": {"field": "hi", "type": "quantitative", "title": "EPSP slope (%)"}}},
   {"data": {"name": "sig"}, "transform": [{"filter": "datum.g === 'APP/PS1'"}], "mark": {"type": "text", "fontSize": 8, "color": "#333"}, "encoding": {"y": {"datum": 139.5, "type": "quantitative"}, "text": {"field": "label"}}},
   {"data": {"name": "sig"}, "transform": [{"filter": "datum.g !== 'APP/PS1'"}], "mark": {"type": "text", "fontSize": 7.5, "color": "#333"}, "encoding": {"y": {"datum": 155.5, "type": "quantitative"}, "text": {"field": "label"}}}
  ]
 }
],
"spacing": 14
}
